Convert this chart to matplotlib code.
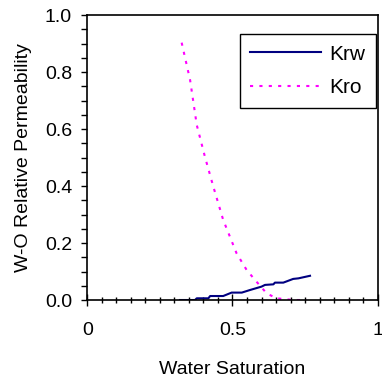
import matplotlib.pyplot as plt
from matplotlib.ticker import MultipleLocator

plt.rcParams['font.family'] = ['Liberation Sans', 'DejaVu Sans']

# Krw curve (water)
sw_krw = [0.319, 0.371, 0.377, 0.417, 0.423, 0.468, 0.497, 0.532, 0.560,
          0.600, 0.612, 0.641, 0.646, 0.675, 0.709, 0.727, 0.767]
krw = [0.0, 0.0, 0.006, 0.006, 0.014, 0.014, 0.026, 0.026, 0.035,
       0.047, 0.053, 0.055, 0.061, 0.061, 0.074, 0.076, 0.085]

# Kro curve (oil)
sw_kro = [0.325, 0.354, 0.377, 0.405, 0.434, 0.468, 0.514, 0.549,
          0.583, 0.618, 0.652, 0.710, 0.755]
kro = [0.903, 0.772, 0.614, 0.503, 0.398, 0.281, 0.164, 0.105,
       0.064, 0.023, 0.006, 0.0, 0.0]

x_ticks = [0, 0.5, 1]
x_tick_labels = ['0', '0.5', '1']
y_ticks = [0.0, 0.2, 0.4, 0.6, 0.8, 1.0]
y_tick_labels = ['0.0', '0.2', '0.4', '0.6', '0.8', '1.0']

fig = plt.figure(figsize=(3.82, 3.80), dpi=100)
ax = fig.add_axes([0.2285, 0.2105, 0.7602, 0.75])

ax.plot(sw_krw, krw, color='#000080', lw=1.5, label='Krw')
ax.plot(sw_kro, kro, color='#FF00FF', lw=1.5, dashes=(1.5, 3), label='Kro')

ax.set_xlim(0, 1)
ax.set_ylim(0, 1)
ax.set_xticks(x_ticks)
ax.set_xticklabels(x_tick_labels)
ax.set_yticks(y_ticks)
ax.set_yticklabels(y_tick_labels)
ax.xaxis.set_minor_locator(MultipleLocator(0.05))
ax.yaxis.set_minor_locator(MultipleLocator(0.05))

ax.tick_params(axis='x', which='major', direction='inout', length=9, width=1, labelsize=14, pad=11)
ax.tick_params(axis='x', which='minor', direction='inout', length=5, width=1)
ax.tick_params(axis='y', which='both', direction='out', length=4, width=1, labelsize=14, pad=7)

for s in ax.spines.values():
    s.set_linewidth(1.2)

ax.set_xlabel('Water Saturation', fontsize=14, labelpad=16)
ax.set_ylabel('W-O Relative Permeability', fontsize=14, labelpad=9)

leg = ax.legend(loc='upper right', bbox_to_anchor=(0.994, 0.933), fontsize=15,
                handlelength=3.4, handletextpad=0.4, fancybox=False, framealpha=1,
                edgecolor='black', borderaxespad=0, labelspacing=0.7, borderpad=0.5)
leg.get_frame().set_linewidth(1)

fig.savefig('out.png', dpi=100)
